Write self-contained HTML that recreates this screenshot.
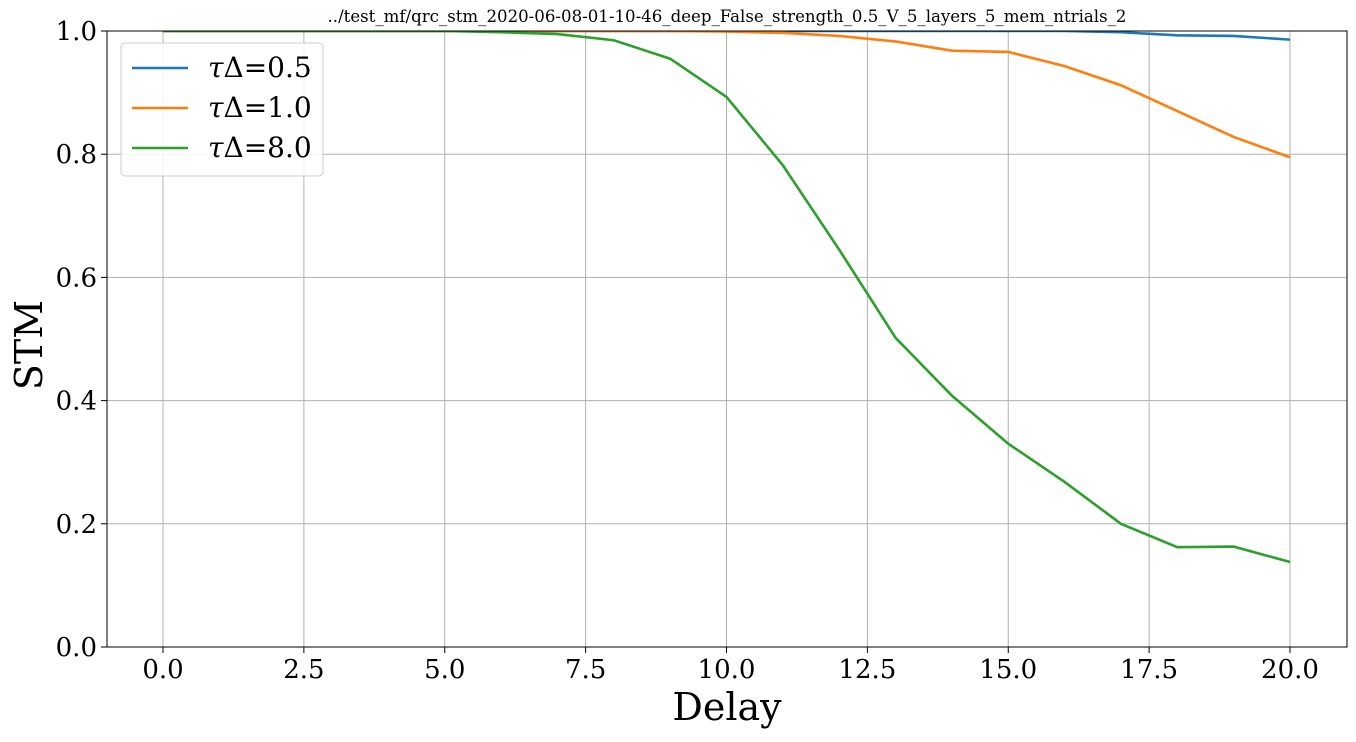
<!DOCTYPE html>
<html><head><meta charset="utf-8"><style>
body{margin:0;background:#fff;}
svg text{font-family:"DejaVu Serif","Liberation Serif",serif;}
</style></head><body>
<svg id="chart" width="1356" height="737" xmlns="http://www.w3.org/2000/svg">
<defs><clipPath id="clip"><rect x="107" y="31" width="1240" height="616"/></clipPath></defs>
<rect width="1356" height="737" fill="#fff"/>
<text x="727" y="22" font-size="16.6" text-anchor="middle">../test_mf/qrc_stm_2020-06-08-01-10-46_deep_False_strength_0.5_V_5_layers_5_mem_ntrials_2</text>
<g id="grid"></g>
<g id="series" clip-path="url(#clip)"></g>
<rect x="107" y="31" width="1240" height="616" fill="none" stroke="#000" stroke-width="1"/>
<g id="ticks"></g>
<text x="727" y="720" font-size="38" text-anchor="middle">Delay</text>
<text transform="translate(42,345) rotate(-90)" font-size="38" text-anchor="middle">STM</text>
<g>
<rect x="121" y="43" width="202" height="133" rx="4" fill="#fff" fill-opacity="0.85" stroke="#ccc"/>
</g>
<g id="legend-entries"></g>
</svg>
<script>
const delays=[0,1,2,3,4,5,6,7,8,9,10,11,12,13,14,15,16,17,18,19,20];
const blue=[1,1,1,1,1,1,1,1,1,1,1,1,1,1,1,1,1,0.998,0.993,0.992,0.986];
const orange=[1,1,1,1,1,1,1,1,1,1,0.999,0.997,0.992,0.983,0.968,0.966,0.943,0.912,0.870,0.828,0.795];
const green=[1,1,1,1,1,1,0.998,0.995,0.985,0.955,0.893,0.782,0.645,0.502,0.408,0.330,0.268,0.200,0.162,0.163,0.138];
const xTicks=[0,2.5,5,7.5,10,12.5,15,17.5,20];
const yTicks=[0,0.2,0.4,0.6,0.8,1.0];
const labels=["=0.5","=1.0","=8.0"];
const NS="http://www.w3.org/2000/svg";
const X=v=>163+v*(1290-163)/20;
const Y=v=>647-v*616;
function mk(t,a,p){const e=document.createElementNS(NS,t);for(const k in a)e.setAttribute(k,a[k]);p.appendChild(e);return e;}
const grid=document.getElementById('grid'),ticks=document.getElementById('ticks');
xTicks.forEach(t=>{
 const l=mk('line',{x1:X(t),x2:X(t),y1:31,y2:647,stroke:'#b0b0b0','stroke-width':1},grid);
 
 
 mk('line',{x1:X(t),x2:X(t),y1:647,y2:653,stroke:'#000'},ticks);
 const tx=mk('text',{x:X(t),y:678,'font-size':26,'text-anchor':'middle'},ticks);
 tx.textContent=t.toFixed(1);
 
 
});
yTicks.forEach(t=>{
 const l=mk('line',{x1:107,x2:1347,y1:Y(t),y2:Y(t),stroke:'#b0b0b0','stroke-width':1},grid);
 
 
 mk('line',{x1:101,x2:107,y1:Y(t),y2:Y(t),stroke:'#000'},ticks);
 const tx=mk('text',{x:97,y:Y(t)+9,'font-size':26,'text-anchor':'end'},ticks);
 tx.textContent=t.toFixed(1);
 
 
});
const ser=document.getElementById('series');
const colors=['#1f77b4','#ff7f0e','#2ca02c'];
[blue,orange,green].forEach((s,i)=>{
 const p=mk('polyline',{points:s.map((v,j)=>X(delays[j])+','+Y(v)).join(' '),fill:'none',stroke:colors[i],'stroke-width':2.6},ser);
 
 
});
const lg=document.getElementById('legend-entries');
labels.forEach((lab,i)=>{
 const y=68+i*40;
 const l=mk('line',{x1:132,x2:188,y1:y,y2:y,stroke:colors[i],'stroke-width':2.6},lg);
 
 
 const t=mk('text',{x:208,y:y+9,'font-size':28},lg);
 const ts=mk('tspan',{'font-style':'italic'},t);ts.textContent='τ';
 const ts2=mk('tspan',{},t);ts2.textContent='Δ'+lab;
 
 
});
</script>
</body></html>
